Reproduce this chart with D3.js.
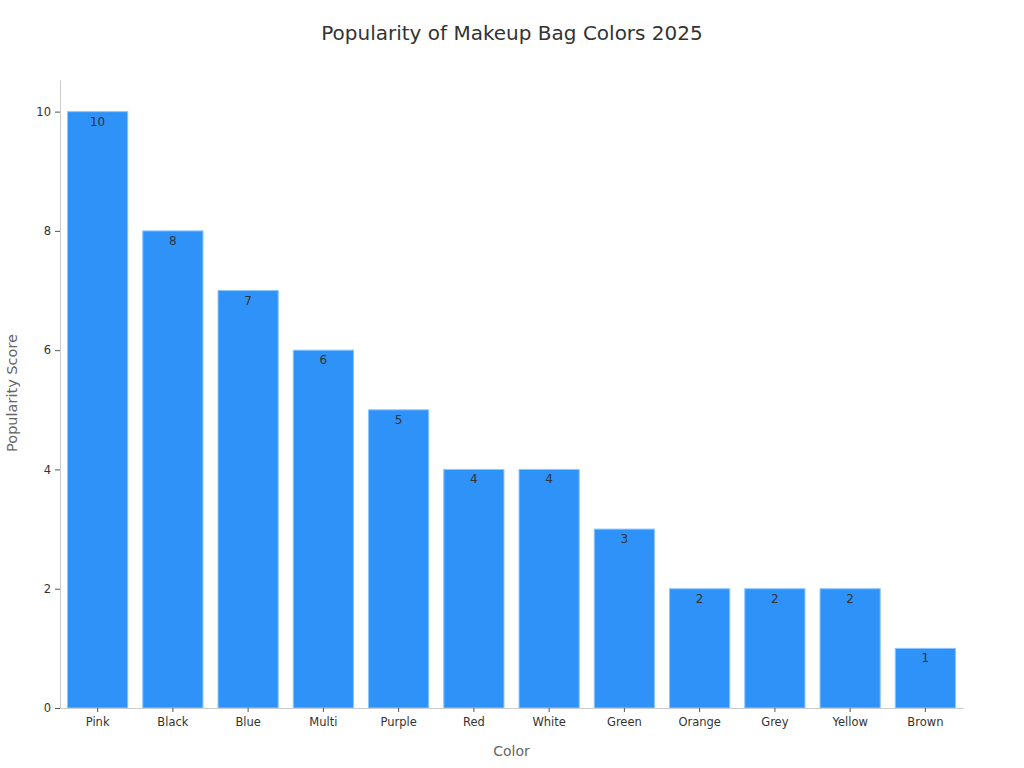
<!DOCTYPE html>
<html>
<head>
<meta charset="utf-8">
<script src="https://cdn.jsdelivr.net/npm/d3@7"></script>
<style>
  body { margin: 0; background: #fff; font-family: "DejaVu Sans", sans-serif; }
  .axis .domain { stroke: #cccccc; }
  .axis .tick line { stroke: #555; }
  .axis .tick text { fill: #333; font-size: 11.5px; font-family: "DejaVu Sans", sans-serif; }
</style>
</head>
<body>
<div id="chart"></div>
<script>
// data
var colors = ['Pink', 'Black', 'Blue', 'Multi', 'Purple', 'Red', 'White', 'Green', 'Orange', 'Grey', 'Yellow', 'Brown'];
var scores = [10, 8, 7, 6, 5, 4, 4, 3, 2, 2, 2, 1];
var yTicks = [0, 2, 4, 6, 8, 10];

var W = 1024, H = 768;
var margin = { top: 80, right: 61, bottom: 60, left: 60 };
var width = W - margin.left - margin.right,
	height = H - margin.top - margin.bottom;

var svg = d3
	.select('#chart')
	.append('svg')
	.attr('width', W)
	.attr('height', H);

var g = svg
	.append('g')
	.attr('transform', 'translate(' + margin.left + ', ' + margin.top + ')');

var x = d3
	.scaleBand()
	.domain(colors)
	.range([0, width])
	.paddingInner(0.2)
	.paddingOuter(0.1);

var y = d3.scaleLinear().domain([0, 10.53]).range([height, 0]);

var x_axis = d3.axisBottom(x).tickSize(4).tickSizeOuter(0).tickPadding(6);
var y_axis = d3.axisLeft(y).tickValues(yTicks).tickSize(5).tickSizeOuter(0).tickPadding(4);

g.append('g')
	.attr('class', 'y axis')
	.call(y_axis);

g.selectAll('rect.bar')
	.data(scores)
	.enter()
	.append('rect')
	.attr('class', 'bar')
	.attr('x', function (d, i) {
		return x(colors[i]);
	})
	.attr('y', function (d) {
		return y(d);
	})
	.attr('width', x.bandwidth())
	.attr('height', function (d) {
		return height - y(d);
	})
	.style('fill', '#2f92f8')
	.style('stroke', '#8cc6ff')
	.style('stroke-width', 1);

g.append('g')
	.attr('class', 'x axis')
	.attr('transform', 'translate(0,' + height + ')')
	.call(x_axis);

// value labels just inside the bar tops
g.selectAll('text.val')
	.data(scores)
	.enter()
	.append('text')
	.attr('class', 'val')
	.attr('x', function (d, i) {
		return x(colors[i]) + x.bandwidth() / 2;
	})
	.attr('y', function (d) {
		return y(d) + 14;
	})
	.attr('text-anchor', 'middle')
	.style('font-size', '12px')
	.style('fill', '#333')
	.text(function (d) {
		return d;
	});

svg.append('text')
	.attr('x', W / 2)
	.attr('y', 40)
	.attr('text-anchor', 'middle')
	.style('font-size', '20px')
	.style('fill', '#333')
	.text('Popularity of Makeup Bag Colors 2025');

svg.append('text')
	.attr('x', margin.left + width / 2)
	.attr('y', 756)
	.attr('text-anchor', 'middle')
	.style('font-size', '14px')
	.style('fill', '#666')
	.text('Color');

svg.append('text')
	.attr('transform', 'translate(17,393) rotate(-90)')
	.attr('text-anchor', 'middle')
	.style('font-size', '14.5px')
	.style('fill', '#666')
	.text('Popularity Score');
</script>
</body>
</html>
